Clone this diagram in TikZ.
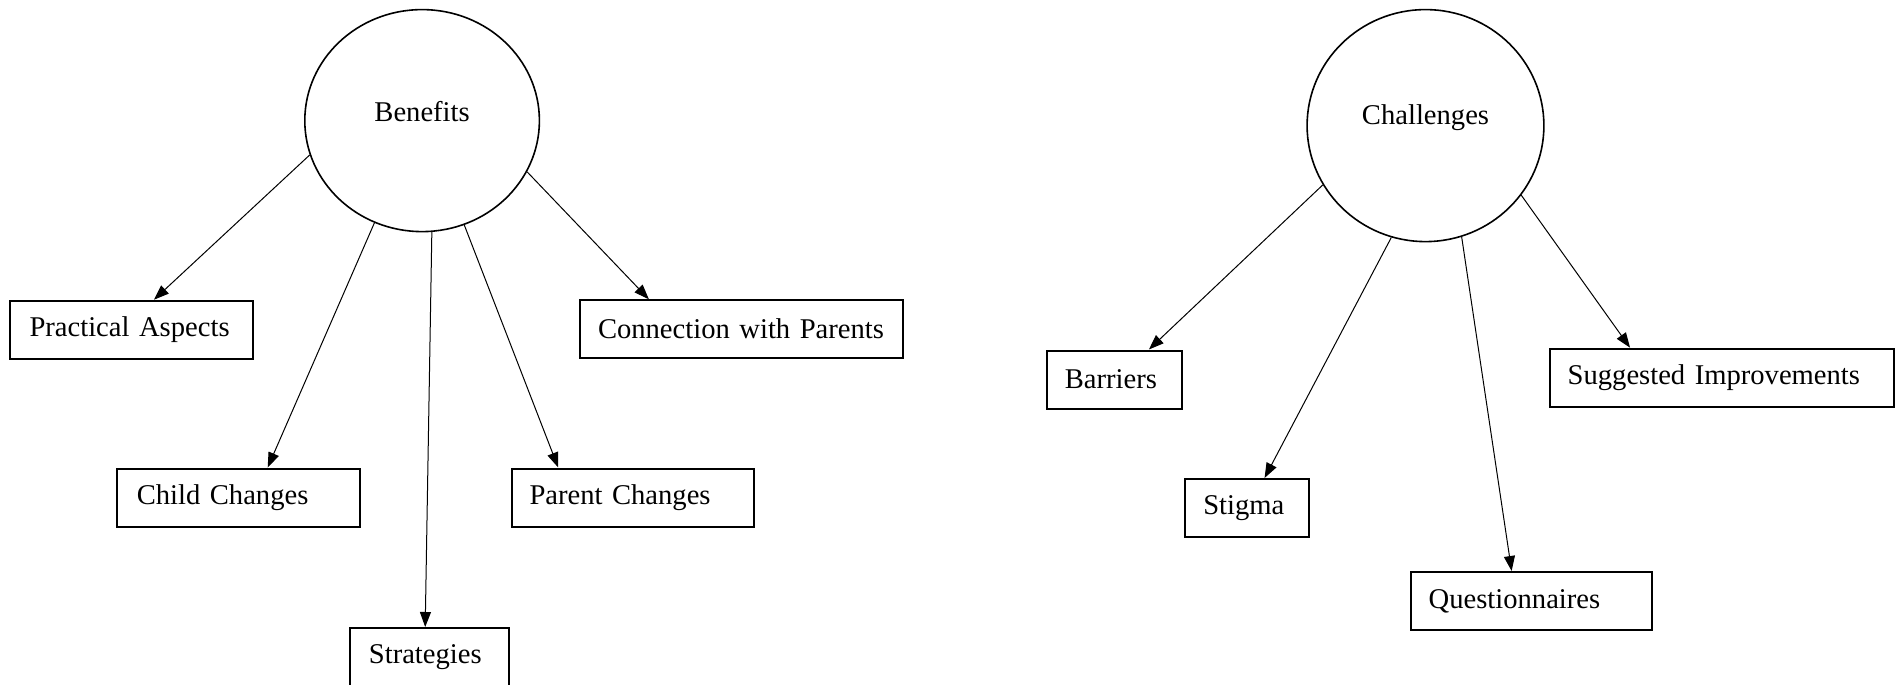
\documentclass[tikz,border=0pt]{standalone}
\usepackage{fontspec}
\setmainfont{Liberation Serif}
\usetikzlibrary{arrows.meta,shapes.geometric}
\begin{document}
\begin{tikzpicture}[x=0.5pt,y=-0.5pt,
 box/.style={draw, line width=1pt, anchor=north west, minimum height=29pt, align=left, inner ysep=0pt, font=\fontsize{14.3pt}{17pt}\selectfont},
 hub/.style={draw, ellipse, line width=0.8pt, inner sep=0pt},
 arr/.style={line width=0.5pt, -{Triangle[length=7.5pt,width=5.5pt]}},
 lbl/.style={font=\fontsize{14.3pt}{17pt}\selectfont}]
\useasboundingbox (0,0) rectangle (1896,685);
% hubs
\node[hub, minimum width=117.3pt, minimum height=111pt, label={[lbl,yshift=4.5pt,name=benl]center:Benefits}] (ben) at (422.1,120.6) {};
\node[hub, minimum width=118.4pt, minimum height=116pt, label={[lbl,yshift=4pt,name=chal]center:Challenges}] (cha) at (1425.5,125.6) {};
% boxes left
\node[box, text width=101.5pt, inner xsep=10pt] (pa) at (8.5,299.7) {\mbox{Practical Aspects}};
\node[box, text width=101.8pt, inner xsep=9.7pt] (cc) at (116.4,467.5) {\mbox{Child Changes}};
\node[box, text width=60.3pt, inner xsep=9.7pt] (st) at (348.5,627) {Strategies};
\node[box, text width=103.3pt, inner xsep=8.8pt] (pc) at (510.9,467.5) {\mbox{Parent Changes}};
\node[box, text width=143.3pt, inner xsep=9.1pt] (cp) at (578.8,299.3) {\raisebox{1pt}{\mbox{Connection with Parents}}};
% boxes right
\node[box, text width=49.5pt, inner xsep=9.15pt] (ba) at (1045.5,349.5) {Barriers};
\node[box, text width=43.55pt, inner xsep=9.4pt] (sti) at (1183.5,478) {Stigma};
\node[box, text width=102.75pt, inner xsep=9.1pt] (qu) at (1409.5,571) {Questionnaires};
\node[box, text width=154.25pt, inner xsep=8.85pt] (si) at (1549,347.7) {\mbox{Suggested Improvements}};
% arrows
\draw[arr] (ben.197) -- ([xshift=11.5pt]pa.north);
\draw[arr] (ben.245) -- ([xshift=14.55pt]cc.north);
\draw[arr] (ben.275) -- ([xshift=-2pt]st.north);
\draw[arr] (ben.292) -- ([xshift=-37.3pt]pc.north);
\draw[arr] (ben.334) -- ([xshift=-46.2pt]cp.north);
\draw[arr] (cha.210) -- ([xshift=17.3pt]ba.north);
\draw[arr] (cha.253) -- ([xshift=8.85pt]sti.north);
\draw[arr] (cha.288) -- ([xshift=-9.9pt]qu.north);
\draw[arr] (cha.324) -- ([xshift=-45.95pt]si.north);
\end{tikzpicture}
\end{document}
